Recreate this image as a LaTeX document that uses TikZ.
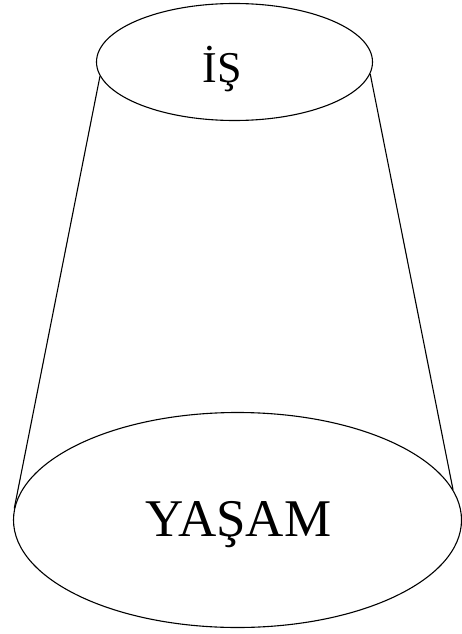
\documentclass[tikz,border=0pt]{standalone}
\usepackage{fontspec}
\setmainfont{Liberation Serif}
\usetikzlibrary{positioning, shapes.geometric}

\begin{document}
\begin{tikzpicture}[
        x=1pt, y=-1pt,
        line width=1.1pt,
        rim/.style={ellipse, draw, inner sep=0pt},
        label/.style={anchor=base, inner sep=0pt},
        side/.style={draw}
    ]
        \path[use as bounding box] (0,0) rectangle (462,634);

        % Nodes
        \node [rim, minimum width=276, minimum height=117] (top) at (234.5,62) {};
        \node [rim, minimum width=448, minimum height=215] (base) at (237.5,520) {};
        \node [label, font=\fontsize{44}{44}\selectfont] (work) at (222,82) {İŞ};
        \node [label, font=\fontsize{53}{53}\selectfont] (life) at (238.5,536.5) {YAŞAM};

        % Edges
        \draw [side] (top.186) -- (base.177);
        \draw [side] (top.355) -- (base.8);

    \end{tikzpicture}
\end{document}
